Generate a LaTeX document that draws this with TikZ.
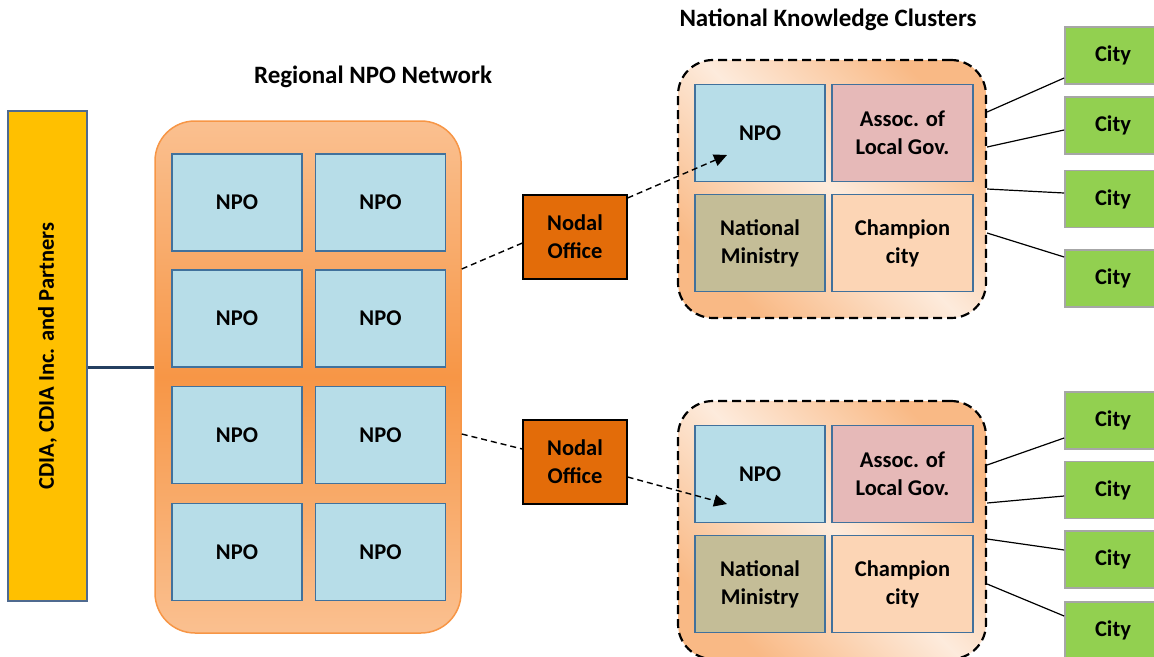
\documentclass[tikz,border=0pt]{standalone}
\usepackage{fontspec}
\setmainfont{Carlito}
\usetikzlibrary{arrows.meta}

\definecolor{barfill}{HTML}{FFC000}
\definecolor{barline}{HTML}{4F6A8F}
\definecolor{busline}{HTML}{243F60}
\definecolor{regtop}{HTML}{FAC090}
\definecolor{regmid}{HTML}{F79646}
\definecolor{npofill}{HTML}{B7DDE8}
\definecolor{boxline}{HTML}{41719C}
\definecolor{nodalfill}{HTML}{E36C09}
\definecolor{assocfill}{HTML}{E6B9B8}
\definecolor{minfill}{HTML}{C4BD97}
\definecolor{champfill}{HTML}{FCD5B5}
\definecolor{clorange}{HTML}{F9B985}
\definecolor{cllight}{HTML}{FDEBDC}
\definecolor{cityfill}{HTML}{92D050}
\definecolor{cityline}{HTML}{A6A6A6}

\begin{document}
\begin{tikzpicture}[x=1pt, y=-1pt,
    font=\bfseries\fontsize{22.5}{28}\selectfont,
    title/.style={font=\bfseries\fontsize{25}{30}\selectfont},
    box/.style={draw=boxline, line width=1.2pt, inner sep=0pt, align=center,
        minimum width=130pt, minimum height=97pt},
    npo/.style={box, fill=npofill},
    wide/.style={box, minimum width=141pt},
    nodal/.style={draw=black, line width=1.2pt, fill=nodalfill, align=center,
        minimum width=104pt, minimum height=84pt},
    cluster/.style={draw=black, line width=2.2pt, dash pattern=on 9pt off 5pt,
        rounded corners=35pt, minimum width=308pt, minimum height=258pt,
        top color=clorange, bottom color=clorange, middle color=cllight, shading angle=-45},
    city/.style={draw=cityline, line width=1.8pt, fill=cityfill,
        minimum width=96pt, minimum height=57pt},
    feed/.style={black, line width=1.4pt, dash pattern=on 6pt off 4pt},
    tie/.style={black, line width=1.2pt}]
    \useasboundingbox (0,0) rectangle (1154,656);

    % Partners bar
    \node[draw=barline, line width=1.2pt, fill=barfill, rotate=90,
        minimum width=490pt, minimum height=79pt] (bar) at (47.5,356) {CDIA, CDIA Inc. and Partners};

    % Regional NPO network
    \node[title] at (373,77) {Regional NPO Network};
    \node[draw=regmid, line width=1.5pt, rounded corners=40pt,
        top color=regtop, bottom color=regtop, middle color=regmid,
        minimum width=306pt, minimum height=512pt] (reg) at (308,377) {};
    \node[npo] (r11) at (237,202.5) {NPO};
    \node[npo] (r12) at (380.5,202.5) {NPO};
    \node[npo] (r21) at (237,318.5) {NPO};
    \node[npo] (r22) at (380.5,318.5) {NPO};
    \node[npo] (r31) at (237,435) {NPO};
    \node[npo] (r32) at (380.5,435) {NPO};
    \node[npo] (r41) at (237,552) {NPO};
    \node[npo] (r42) at (380.5,552) {NPO};
    \draw[busline, line width=3pt] (bar.south |- r21.south) -- (reg.west |- r21.south);

    % Knowledge clusters
    \node[title] at (828,20) {National Knowledge Clusters};
    \node[cluster] (cl1) at (832,189) {};
    \node[npo] (cn1) at (760,133) {NPO};
    \node[wide, fill=assocfill] (ca1) at (902.5,133) {Assoc. of\\Local Gov.};
    \node[box, fill=minfill] (cm1) at (760,243) {National\\Ministry};
    \node[wide, fill=champfill] (cc1) at (902.5,243) {Champion\\city};

    \node[cluster] (cl2) at (832,530) {};
    \node[npo] (cn2) at (760,474) {NPO};
    \node[wide, fill=assocfill] (ca2) at (902.5,474) {Assoc. of\\Local Gov.};
    \node[box, fill=minfill] (cm2) at (760,584) {National\\Ministry};
    \node[wide, fill=champfill] (cc2) at (902.5,584) {Champion\\city};

    % Nodal offices
    \node[nodal] (nod1) at (575,237) {Nodal\\Office};
    \node[nodal] (nod2) at (575,462) {Nodal\\Office};
    \coordinate (tip1) at (727,155);
    \coordinate (tip2) at (727,504);
    \draw[feed] ([yshift=108pt]reg.east) -- ([yshift=-6pt]nod1.west);
    \draw[feed, -{Triangle[length=13pt, width=12pt]}] ([yshift=39pt]nod1.east) -- (tip1);
    \draw[feed] ([yshift=-57pt]reg.east) -- ([yshift=13pt]nod2.west);
    \draw[feed, -{Triangle[length=13pt, width=12pt]}] ([yshift=-15pt]nod2.east) -- (tip2);

    % Cities
    \node[city] (u1) at (1113,55.5) {City};
    \node[city] (u2) at (1113,125.5) {City};
    \node[city] (u3) at (1113,199) {City};
    \node[city] (u4) at (1113,278.5) {City};
    \node[city] (d1) at (1113,420.5) {City};
    \node[city] (d2) at (1113,490) {City};
    \node[city] (d3) at (1113,559.5) {City};
    \node[city] (d4) at (1113,630.5) {City};
    \draw[tie] ([yshift=77pt]cl1.east) -- ([yshift=-22.5pt]u1.west);
    \draw[tie] ([yshift=42pt]cl1.east) -- ([yshift=-4.5pt]u2.west);
    \draw[tie] (cl1.east) -- ([yshift=6pt]u3.west);
    \draw[tie] ([yshift=-44pt]cl1.east) -- ([yshift=21.5pt]u4.west);
    \draw[tie] ([yshift=65pt]cl2.east) -- ([yshift=-17.5pt]d1.west);
    \draw[tie] ([yshift=27pt]cl2.east) -- ([yshift=-6pt]d2.west);
    \draw[tie] ([yshift=-9pt]cl2.east) -- ([yshift=9.5pt]d3.west);
    \draw[tie] ([yshift=-54pt]cl2.east) -- ([yshift=14.5pt]d4.west);
\end{tikzpicture}
\end{document}
